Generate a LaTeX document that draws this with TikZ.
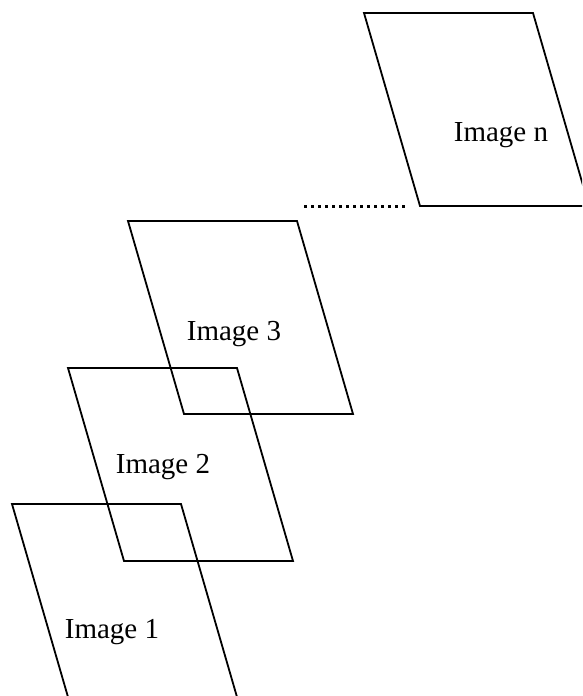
\documentclass[tikz,border=0pt]{standalone}
\usepackage{fontspec}
\setmainfont{Liberation Serif}
\begin{document}
\begin{tikzpicture}[x=1pt,y=-1pt,
  frame/.style={draw=black,line width=1.8pt,line join=miter},
  caption/.style={font=\fontsize{29}{32}\selectfont,inner sep=0pt},
  dots/.style={line width=3pt,dash pattern=on 3pt off 4pt}]
\useasboundingbox (0,0) rectangle (582,696);
\clip (0,0) rectangle (582,696);
% slanted frames: top edge 169 wide, sides drop 193 while moving 56 right
\foreach \n/\x/\y in {n/364/13, c/128/221, b/68/368, a/12/504} {
  \coordinate (\n-tl) at (\x,\y);
  \coordinate (\n-tr) at (\x+169,\y);
  \coordinate (\n-br) at (\x+225,\y+193);
  \coordinate (\n-bl) at (\x+56,\y+193);
  \draw[frame] (\n-tl) -- (\n-tr) -- (\n-br) -- (\n-bl) -- cycle;
}
\node[caption] (tn) at (501,135) {Image n};
\node[caption] (t3) at (234,334) {Image 3};
\node[caption] (t2) at (163,467) {Image 2};
\node[caption] (t1) at (112,632) {Image 1};
% ellipsis leading to the last frame
\coordinate (d0) at (304,206);
\draw[dots] (d0) -- ([xshift=-12pt]n-bl);
\end{tikzpicture}
\end{document}
